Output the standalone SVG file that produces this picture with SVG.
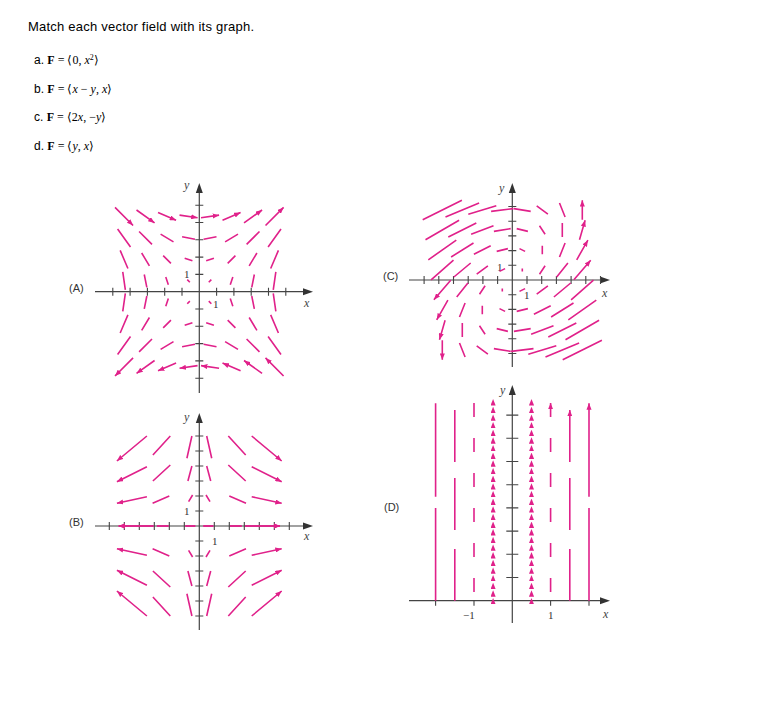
<svg xmlns="http://www.w3.org/2000/svg" xmlns:xlink="http://www.w3.org/1999/xlink" width="764" height="712" viewBox="0 0 764 712">
<style>
.t{font-family:"Liberation Sans",Arial,sans-serif;fill:#000}
.m{font-family:"Liberation Serif","Times New Roman",serif;fill:#000}
.lab{font-family:"Liberation Sans",Arial,sans-serif;font-size:11px;fill:#333}
.ax{font-family:"Liberation Serif",serif;font-style:italic;font-size:12px;fill:#444}
.one{font-family:"Liberation Serif",serif;font-size:11px;fill:#333}
.axis{stroke:#444;stroke-width:1.2;fill:none}
.tick{stroke:#444;stroke-width:1.1;fill:none}
.head{fill:#333}
.v{stroke:#e0218a;fill:none;marker-end:url(#ah)}
</style>
<defs>
<marker id="ah" viewBox="0 0 10 8" markerWidth="4" markerHeight="3.2" refX="10" refY="4" orient="auto"><path d="M0,0 L10,4 L0,8 z" fill="#e0218a"/></marker>
</defs>
<g id="header">
<text class="t" x="28" y="31" font-size="13" textLength="226">Match each vector field with its graph.</text>
<text x="34" y="64" font-size="12"><tspan class="t">a. </tspan><tspan class="m" font-weight="bold">F</tspan><tspan class="m"> = ⟨0, <tspan font-style="italic">x</tspan><tspan baseline-shift="super" font-size="8">2</tspan>⟩</tspan></text>
<text x="34" y="93" font-size="12"><tspan class="t">b. </tspan><tspan class="m" font-weight="bold">F</tspan><tspan class="m"> = ⟨<tspan font-style="italic">x</tspan> − <tspan font-style="italic">y</tspan>, <tspan font-style="italic">x</tspan>⟩</tspan></text>
<text x="34" y="121" font-size="12"><tspan class="t">c. </tspan><tspan class="m" font-weight="bold">F</tspan><tspan class="m"> = ⟨2<tspan font-style="italic">x</tspan>, −<tspan font-style="italic">y</tspan>⟩</tspan></text>
<text x="34" y="150" font-size="12"><tspan class="t">d. </tspan><tspan class="m" font-weight="bold">F</tspan><tspan class="m"> = ⟨<tspan font-style="italic">y</tspan>, <tspan font-style="italic">x</tspan>⟩</tspan></text>
</g>

<g id="plotA">
<path class="axis" d="M95,291.7H310M199.3,393V186"/>
<polygon class="head" points="313,291.7 303,288.2 303,295.2"/>
<polygon class="head" points="199.3,183 195.8,193 202.8,193"/>
<path class="tick" d="M182,287.7v8M164.7,287.7v8M147.4,287.7v8M130.1,287.7v8M112.8,287.7v8M216.6,287.7v8M233.9,287.7v8M251.2,287.7v8M268.5,287.7v8M285.8,287.7v8M195.3,274.4h8M195.3,257.1h8M195.3,239.8h8M195.3,222.5h8M195.3,205.2h8M195.3,309h8M195.3,326.3h8M195.3,343.6h8M195.3,360.9h8M195.3,378.2h8"/>
<text class="lab" x="69" y="292">(A)</text>
<text class="one" x="184" y="278">1</text>
<text class="one" x="213" y="308">1</text>
<text class="ax" x="304" y="307">x</text>
<text class="ax" x="184" y="189">y</text>
<g transform="translate(199.3,291.7) scale(21.5,-21.5)" stroke-width="0.0744">
<g id="aq" class="v">
<path d="M.44,.44L.56,.56M.32,1.44L.68,1.56M.2,2.44L.8,2.56M.08,3.44L.92,3.56"/>
<path d="M1.44,.32L1.56,.68M1.32,1.32L1.68,1.68M1.2,2.32L1.8,2.68M1.08,3.32L1.92,3.68"/>
<path d="M2.44,.2L2.56,.8M2.32,1.2L2.68,1.8M2.2,2.2L2.8,2.8M2.08,3.2L2.92,3.8"/>
<path d="M3.44,.08L3.56,.92M3.32,1.08L3.68,1.92M3.2,2.08L3.8,2.92M3.08,3.08L3.92,3.92"/>
<path d="M-.56,.56L-.44,.44M-.68,1.56L-.32,1.44M-.8,2.56L-.2,2.44M-.92,3.56L-.08,3.44"/>
<path d="M-1.56,.68L-1.44,.32M-1.68,1.68L-1.32,1.32M-1.8,2.68L-1.2,2.32M-1.92,3.68L-1.08,3.32"/>
<path d="M-2.56,.8L-2.44,.2M-2.68,1.8L-2.32,1.2M-2.8,2.8L-2.2,2.2M-2.92,3.8L-2.08,3.2"/>
<path d="M-3.56,.92L-3.44,.08M-3.68,1.92L-3.32,1.08M-3.8,2.92L-3.2,2.08M-3.92,3.92L-3.08,3.08"/>
</g>
<use xlink:href="#aq" transform="rotate(180)"/>
</g>
</g>

<g id="plotC">
<path class="axis" d="M409,280H607M512.3,367V186"/>
<polygon class="head" points="610,280 600,276.5 600,283.5"/>
<polygon class="head" points="512.3,183 508.8,193 515.8,193"/>
<path class="tick" d="M497.6,276v8M482.9,276v8M468.2,276v8M453.5,276v8M438.8,276v8M424.1,276v8M527,276v8M541.7,276v8M556.4,276v8M571.1,276v8M585.8,276v8M600.5,276v8M508.3,265.3h8M508.3,250.6h8M508.3,235.9h8M508.3,221.2h8M508.3,206.5h8M508.3,294.7h8M508.3,309.4h8M508.3,324.1h8M508.3,338.8h8M508.3,353.5h8"/>
<text class="lab" x="383" y="280">(C)</text>
<text class="one" x="497" y="271">1</text>
<text class="one" x="524" y="299">1</text>
<text class="ax" x="602" y="297">x</text>
<text class="ax" x="499" y="192">y</text>
<g transform="translate(512.3,280) scale(20,-20)" stroke-width="0.08">
<g id="cq" class="v">
<path d="M-2.94,.99L-4.06,.01M-2.08,.85L-2.92,.15M-1.22,.71L-1.78,.29M-.36,.57L-.64,.43M.5,.43L.5,.57M1.36,.29L1.64,.71M2.22,.15L2.78,.85M3.08,.01L3.92,.99"/>
<path d="M-2.8,1.99L-4.2,1.01M-1.94,1.85L-3.06,1.15M-1.08,1.71L-1.92,1.29M-.22,1.57L-.78,1.43M.64,1.43L.36,1.57M1.5,1.29L1.5,1.71M2.36,1.15L2.64,1.85M3.22,1.01L3.78,1.99"/>
<path d="M-2.66,2.99L-4.34,2.01M-1.8,2.85L-3.2,2.15M-.94,2.71L-2.06,2.29M-.08,2.57L-.92,2.43M.78,2.43L.22,2.57M1.64,2.29L1.36,2.71M2.5,2.15L2.5,2.85M3.36,2.01L3.64,2.99"/>
<path d="M-2.52,3.99L-4.48,3.01M-1.66,3.85L-3.34,3.15M-.8,3.71L-2.2,3.29M.06,3.57L-1.06,3.43M.92,3.43L.08,3.57M1.78,3.29L1.22,3.71M2.64,3.15L2.36,3.85M3.5,3.01L3.5,3.99"/>
</g>
<use xlink:href="#cq" transform="rotate(180)"/>
</g>
</g>

<g id="plotB">
<path class="axis" d="M95,526H310M199.3,630V416"/>
<polygon class="head" points="313,526 303,522.5 303,529.5"/>
<polygon class="head" points="199.3,413 195.8,423 202.8,423"/>
<path class="tick" d="M184.3,522v8M169.3,522v8M154.3,522v8M139.3,522v8M124.3,522v8M109.3,522v8M214.3,522v8M229.3,522v8M244.3,522v8M259.3,522v8M274.3,522v8M289.3,522v8M195.3,511h8M195.3,496h8M195.3,481h8M195.3,466h8M195.3,451h8M195.3,436h8M195.3,541h8M195.3,556h8M195.3,571h8M195.3,586h8M195.3,601h8M195.3,616h8"/>
<text class="lab" x="69" y="526">(B)</text>
<text class="one" x="184" y="515">1</text>
<text class="one" x="212" y="545">1</text>
<text class="ax" x="304" y="540">x</text>
<text class="ax" x="184" y="421">y</text>
<g transform="translate(199.3,526)" stroke-width="1.6">
<g id="bq" class="v">
<path d="M7.4,-90L12.4,-67.7M29,-90L46.4,-71M52.4,-90L82.4,-65"/>
<path d="M7.4,-60L11.4,-45M29,-61L46.4,-45M52.4,-59.3L82.4,-44.3"/>
<path d="M6.7,-31L10.7,-24.3M30,-30L46.7,-22.7M52.4,-29.3L82.4,-22.7"/>
<path d="M4,0L14,0M30.7,0L42.4,0M45.7,0L80.7,0"/>
</g>
<use xlink:href="#bq" transform="scale(-1,1)"/>
<use xlink:href="#bq" transform="scale(1,-1)"/>
<use xlink:href="#bq" transform="scale(-1,-1)"/>
</g>
</g>

<g id="plotD">
<path class="axis" d="M409,600.7H607M512.3,623V388"/>
<polygon class="head" points="610,600.7 600,597.2 600,604.2"/>
<polygon class="head" points="512.3,385 508.8,395 515.8,395"/>
<path class="tick" d="M506.3,577.5h12M506.3,554.3h12M506.3,531.1h12M506.3,507.9h12M506.3,484.7h12M506.3,461.5h12M506.3,438.3h12M506.3,415.1h12M474,600.7v5M550.6,600.7v5M435.6,600.7v5M589,600.7v5"/>
<text class="lab" x="384" y="511">(D)</text>
<text class="one" x="463" y="619">−1</text>
<text class="one" x="548" y="619">1</text>
<text class="ax" x="603" y="618">x</text>
<text class="ax" x="500" y="394">y</text>
<g stroke-width="1.6">
<g class="v">
<path d="M435.6,600.7V508M435.6,496.7V403.3M589,600.7V508M589,496.7V403.3"/>
<path d="M454.8,600.7V549M454.8,530V478M454.8,462V410M569.8,600.7V549M569.8,530V478M569.8,462V410"/>
<path d="M474,592V578M474,557V543M474,522V508M474,487V473M474,452V438M474,417V403M550.6,592V578M550.6,557V543M550.6,522V508M550.6,487V473M550.6,452V438M550.6,417V403"/>
</g>
<path id="dcol" stroke="none" fill="none" marker-mid="url(#ah)" marker-end="url(#ah)" d="M493.1,605.5V598V590.3V582.7V575V567.4V559.7V552.1V544.4V536.8V529.1V521.5V513.8V506.2V498.5V490.9V483.2V475.6V467.9V460.3V452.6V445V437.3V429.7V422V414.4V406.7V399.1"/>
<use xlink:href="#dcol" transform="translate(38.4,0)"/>
</g>
</g>
</svg>
